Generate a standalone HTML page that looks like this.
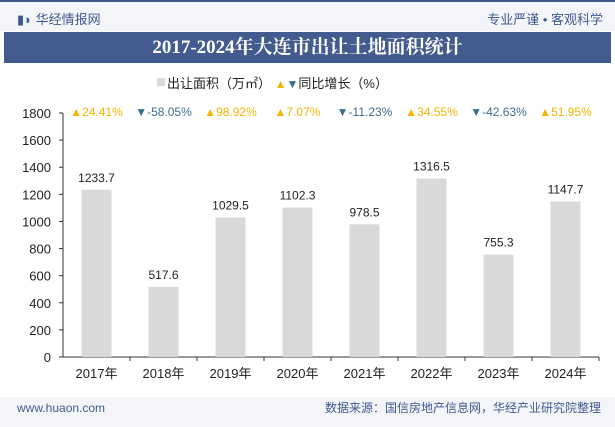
<!DOCTYPE html>
<html><head><meta charset="utf-8"><style>
body{margin:0;width:615px;height:427px;overflow:hidden;background:#fff;font-family:"Liberation Sans","Noto Sans CJK SC",sans-serif;}
#hdr{position:absolute;left:0;top:0;width:615px;height:31px;background:#f3f5f8;border-top:2px solid #3f5a8f;box-sizing:border-box}
#title{position:absolute;left:4px;top:32px;width:607px;height:31px;background:#435b8e;color:#fff;font:bold 19px "Liberation Serif","Noto Serif CJK SC",serif;text-align:center;line-height:31px}
#foot{position:absolute;left:0;top:397px;width:615px;height:30px;background:#f3f5f8;font-size:12px;line-height:22px}
</style></head><body>
<div id="hdr">
<span style="position:absolute;left:17px;top:7px;font-size:13px;color:#3f5a8f">▮◗ 华经情报网</span>
<span style="position:absolute;right:12px;top:7px;font-size:13px;color:#3f5a8f">专业严谨 • 客观科学</span>
</div>
<div id="title">2017-2024年大连市出让土地面积统计</div>
<svg width="615" height="427" style="position:absolute;left:0;top:0" id="chart"></svg>
<div id="foot">
<span style="position:absolute;left:17px;top:0;color:#3f5a8f">www.huaon.com</span>
<span style="position:absolute;right:14px;top:0;color:#3f5a8f">数据来源：国信房地产信息网，华经产业研究院整理</span>
</div>
<script>
const categories=["2017年","2018年","2019年","2020年","2021年","2022年","2023年","2024年"];
const areaValues=[1233.7,517.6,1029.5,1102.3,978.5,1316.5,755.3,1147.7];
const growthValues=[24.41,-58.05,98.92,7.07,-11.23,34.55,-42.63,51.95];
const yTicks=[0,200,400,600,800,1000,1200,1400,1600,1800];
const svg=document.getElementById('chart');const NS="http://www.w3.org/2000/svg";
function mk(t,a,txt,p){const e=document.createElementNS(NS,t);for(const k in a)e.setAttribute(k,a[k]);if(txt!==undefined)e.textContent=txt;(p||svg).appendChild(e);return e;}
const x0=63,step=67,y0=357,y1=113;
const y=v=>y0-(v/1800)*(y0-y1);
const xc=i=>x0+step*(i+0.5);
// legend
let e=mk('rect',{x:157,y:78,width:8,height:8,fill:'#d9d9d9'});

const lg=mk('text',{x:167,y:88,'font-size':13,fill:'#222'});

e=mk('tspan',{},'出让面积（万㎡） ',lg);

e=mk('tspan',{fill:'#f5b400','font-size':12},'▲',lg);

e=mk('tspan',{fill:'#3c6e8f','font-size':12},'▼',lg);

e=mk('tspan',{},'同比增长（%）',lg);

// axes
e=mk('line',{x1:x0,y1:y1,x2:x0,y2:y0,stroke:'#333'});

e=mk('line',{x1:x0,y1:y0,x2:x0+step*8,y2:y0,stroke:'#333'});

yTicks.forEach(t=>{
 const l=mk('line',{x1:x0-4,y1:y(t),x2:x0,y2:y(t),stroke:'#333'});
 
 const tx=mk('text',{x:51,y:y(t)+5,'font-size':13,'text-anchor':'end',fill:'#222'},String(t));
 
});
categories.forEach((c,i)=>{
 const b=mk('rect',{x:xc(i)-15,y:y(areaValues[i]),width:30,height:y0-y(areaValues[i]),fill:'#d9d9d9'});
 
 const v=mk('text',{x:xc(i),y:y(areaValues[i])-8,'font-size':12,'text-anchor':'middle',fill:'#222'},String(areaValues[i]));
 
 const tk=mk('line',{x1:x0+step*(i+1),y1:y0,x2:x0+step*(i+1),y2:y0+4,stroke:'#333'});
 
 const xl=mk('text',{x:xc(i),y:378,'font-size':13,'text-anchor':'middle',fill:'#222'},c);
 
 const g=growthValues[i];const up=g>=0;
 const gt=mk('text',{x:xc(i),y:116,'font-size':12,'text-anchor':'middle',fill:up?'#f5b400':'#3c6e8f'},(up?'▲':'▼')+g.toFixed(2)+'%');
 
});
</script>
</body></html>
